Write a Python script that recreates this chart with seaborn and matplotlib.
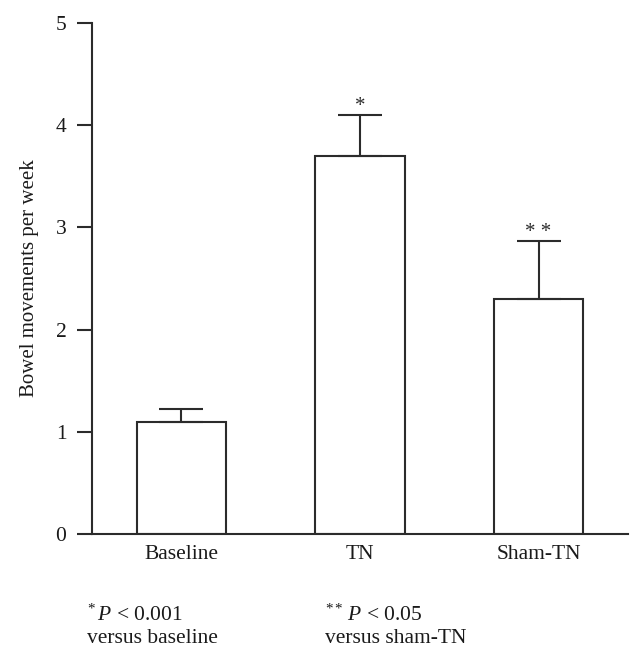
import numpy as np
import pandas as pd
import matplotlib
matplotlib.use("Agg")
import matplotlib.pyplot as plt
import seaborn as sns

# data
groups = ["Baseline", "TN", "Sham-TN"]
means = [1.1, 3.7, 2.3]
upper_err = [0.12, 0.40, 0.57]
stars = ["", "*", "* *"]
y_ticks = [0, 1, 2, 3, 4, 5]

LINE = "#2b2b2b"
TEXT = "#1a1a1a"

sns.set_theme(style="ticks")
plt.rcParams["font.family"] = ["Liberation Serif", "DejaVu Serif"]
plt.rcParams["mathtext.fontset"] = "custom"
plt.rcParams["mathtext.rm"] = "Liberation Serif"
plt.rcParams["mathtext.it"] = "Liberation Serif:italic"

df = pd.DataFrame({"group": groups, "mean": means, "err": upper_err})

fig = plt.figure(figsize=(6.42, 6.57), dpi=100)
ax = fig.add_axes([0.1433, 0.1872, 0.978 - 0.1433, 0.965 - 0.1872])

sns.barplot(data=df, x="group", y="mean", color="white", saturation=1,
            edgecolor=LINE, linewidth=1.5, width=0.5, errorbar=None, ax=ax)

# one-sided (upper) error bars
xs = np.arange(len(groups))
ax.errorbar(xs, df["mean"], yerr=[np.zeros(len(groups)), df["err"]],
            fmt="none", ecolor=LINE, elinewidth=1.5, capsize=16, capthick=1.5,
            zorder=1)

for x, m, e, s in zip(xs, means, upper_err, stars):
    if s:
        ax.text(x, m + e - 0.01, s, ha="center", va="bottom",
                fontsize=15, color=LINE)

ax.set_xlim(-0.5, 2.5)
ax.set_ylim(0, 5)
ax.set_yticks(y_ticks)
ax.set_xlabel("")
ax.set_ylabel("Bowel movements per week", fontsize=15, color=TEXT,
              labelpad=12)

sns.despine(ax=ax)
for side in ["left", "bottom"]:
    ax.spines[side].set_color(LINE)
    ax.spines[side].set_linewidth(1.5)

ax.tick_params(axis="y", length=10.5, width=1.5, color=LINE, pad=8,
               labelsize=15.5, labelcolor=TEXT)
ax.tick_params(axis="x", length=0, pad=8, labelsize=15.5, labelcolor=TEXT)

# footnotes
fig.text(0.135, 0.047, r"$^{*}\,\mathit{P}$ < 0.001" + "\nversus baseline",
         fontsize=15.5, color=TEXT, va="center", linespacing=1.2)
fig.text(0.506, 0.047, r"$^{**}\,\mathit{P}$ < 0.05" + "\nversus sham-TN",
         fontsize=15.5, color=TEXT, va="center", linespacing=1.2)

fig.savefig("out.png", dpi=100, facecolor="white")
